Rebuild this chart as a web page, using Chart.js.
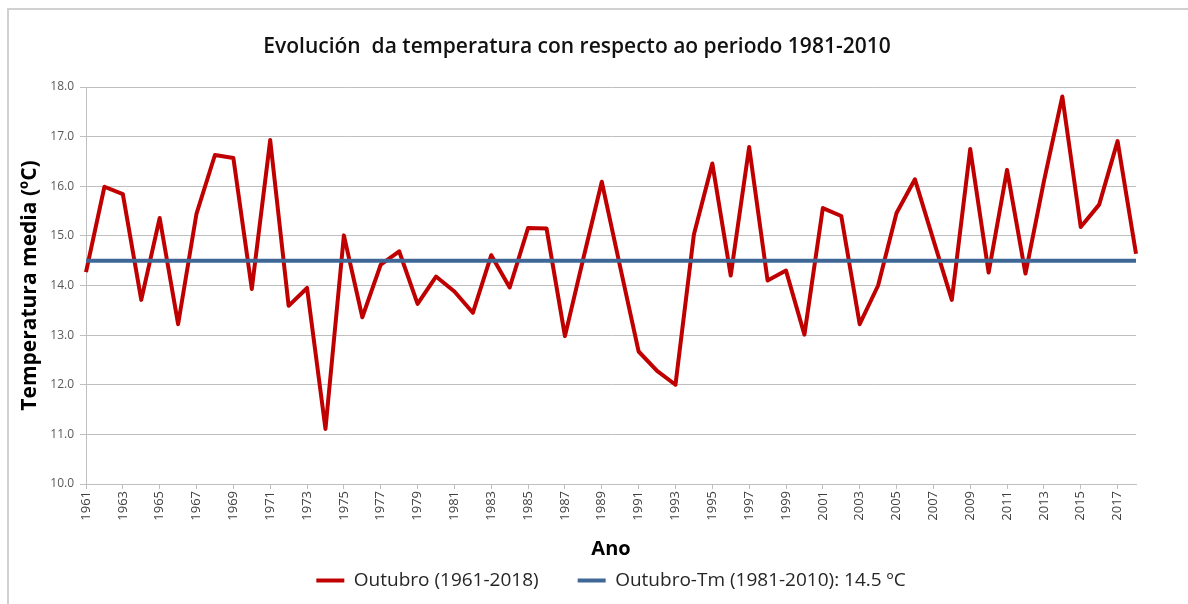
<!DOCTYPE html>
<html>
<head>
<meta charset="utf-8">
<script src="https://cdn.jsdelivr.net/npm/chart.js@4/dist/chart.umd.min.js"></script>
<style>
  html, body { margin: 0; padding: 0; background: #ffffff; }
  #wrap { position: relative; width: 1188px; height: 604px; }
  #frame { position: absolute; left: 7px; top: 8px; right: 0; bottom: -4px; border-left: 2px solid #d0d0d0; border-top: 2px solid #d0d0d0; }
  canvas { position: absolute; left: 0; top: 0; }
</style>
</head>
<body>
<div id="wrap">
  <div id="frame"></div>
  <canvas id="c" width="1188" height="604"></canvas>
</div>
<script>
// ---- data ----
const years = [
  '1961','1962','1963','1964','1965','1966','1967','1968','1969','1970',
  '1971','1972','1973','1974','1975','1976','1977','1978','1979','1980',
  '1981','1982','1983','1984','1985','1986','1987','1988','1989','1990',
  '1991','1992','1993','1994','1995','1996','1997','1998','1999','2000',
  '2001','2002','2003','2004','2005','2006','2007','2008','2009','2010',
  '2011','2012','2013','2014','2015','2016','2017','2018'
];
const octoberTemp = [
  14.27, 15.99, 15.84, 13.71, 15.36, 13.22, 15.45, 16.63, 16.57, 13.93,
  16.93, 13.59, 13.95, 11.11, 15.01, 13.36, 14.42, 14.69, 13.63, 14.18,
  13.88, 13.45, 14.61, 13.96, 15.16, 15.15, 12.98, 14.55, 16.09, 14.37,
  12.67, 12.28, 12.00, 15.03, 16.46, 14.20, 16.79, 14.10, 14.30, 13.01,
  15.56, 15.40, 13.22, 14.00, 15.46, 16.14, 14.92, 13.71, 16.75, 14.26,
  16.33, 14.24, 16.10, 17.81, 15.18, 15.63, 16.91, 14.64
];
const refMean = 14.5;
const refSeries = years.map(() => refMean);
const yTicks = [10, 11, 12, 13, 14, 15, 16, 17, 18];
const seriesNames = ['Outubro (1961-2018)', 'Outubro-Tm (1981-2010): 14.5 ºC'];
const chartTitle = 'Evolución  da temperatura con respecto ao periodo 1981-2010';
const xTitle = 'Ano';
const yTitle = 'Temperatura media (ºC)';

const FONT = '"Open Sans", Lato, sans-serif';

const titlePlugin = {
  id: 'customTitle',
  afterDraw(chart) {
    const ctx = chart.ctx;
    ctx.save();
    ctx.font = '600 21px ' + FONT;
    ctx.fillStyle = '#111111';
    ctx.textAlign = 'center';
    ctx.textBaseline = 'middle';
    ctx.fillText(chartTitle, 577, 47);
    ctx.restore();
  }
};

new Chart(document.getElementById('c'), {
  type: 'line',
  data: {
    labels: years,
    datasets: [
      {
        label: seriesNames[0],
        data: octoberTemp,
        borderColor: '#c00000',
        backgroundColor: '#c00000',
        borderWidth: 4,
        pointRadius: 0,
        tension: 0,
        borderJoinStyle: 'round',
        pointStyle: 'line',
        order: 2
      },
      {
        label: seriesNames[1],
        data: refSeries,
        borderColor: '#3f6796',
        backgroundColor: '#3f6796',
        borderWidth: 4,
        pointRadius: 0,
        tension: 0,
        pointStyle: 'line',
        order: 1
      }
    ]
  },
  options: {
    responsive: false,
    animation: false,
    layout: { padding: { left: 8, right: 52, top: 87, bottom: 4 } },
    plugins: {
      title: { display: false },
      tooltip: { enabled: false },
      legend: {
        position: 'bottom',
        fullSize: false,
        labels: {
          usePointStyle: true,
          pointStyleWidth: 28,
          boxHeight: 4,
          padding: 39,
          color: '#262626',
          font: { family: FONT, size: 19 },
          sort: (a, b) => a.datasetIndex - b.datasetIndex
        }
      }
    },
    scales: {
      x: {
        type: 'category',
        offset: false,
        grid: { drawOnChartArea: false, drawTicks: true, tickLength: 5, color: '#bfbfbf' },
        border: { display: true, color: '#bfbfbf', width: 1 },
        ticks: {
          autoSkip: false,
          minRotation: 90,
          maxRotation: 90,
          padding: 2,
          color: '#404040',
          font: { family: FONT, size: 13 },
          callback: function (val, idx) { return idx % 2 === 0 ? years[idx] : null; }
        },
        title: {
          display: true,
          text: xTitle,
          color: '#000000',
          font: { family: FONT, size: 20, weight: 'bold' },
          padding: { top: 0, bottom: -29 }
        },
        afterFit(scale) { scale.height = 48; }
      },
      y: {
        min: yTicks[0],
        max: yTicks[yTicks.length - 1],
        afterBuildTicks(scale) { scale.ticks = yTicks.map(v => ({ value: v })); },
        grid: { color: '#bfbfbf', lineWidth: 1, tickLength: 6, drawTicks: true },
        border: { display: true, color: '#bfbfbf', width: 1 },
        ticks: {
          padding: 6,
          color: '#595959',
          font: { family: FONT, size: 12 },
          callback: (v) => Number(v).toFixed(1)
        },
        title: {
          display: true,
          text: yTitle,
          color: '#000000',
          font: { family: FONT, size: 21, weight: 'bold' },
          padding: { top: 9, bottom: 0 }
        },
        afterFit(scale) { scale.width = 78; }
      }
    }
  },
  plugins: [titlePlugin]
});
</script>
</body>
</html>
